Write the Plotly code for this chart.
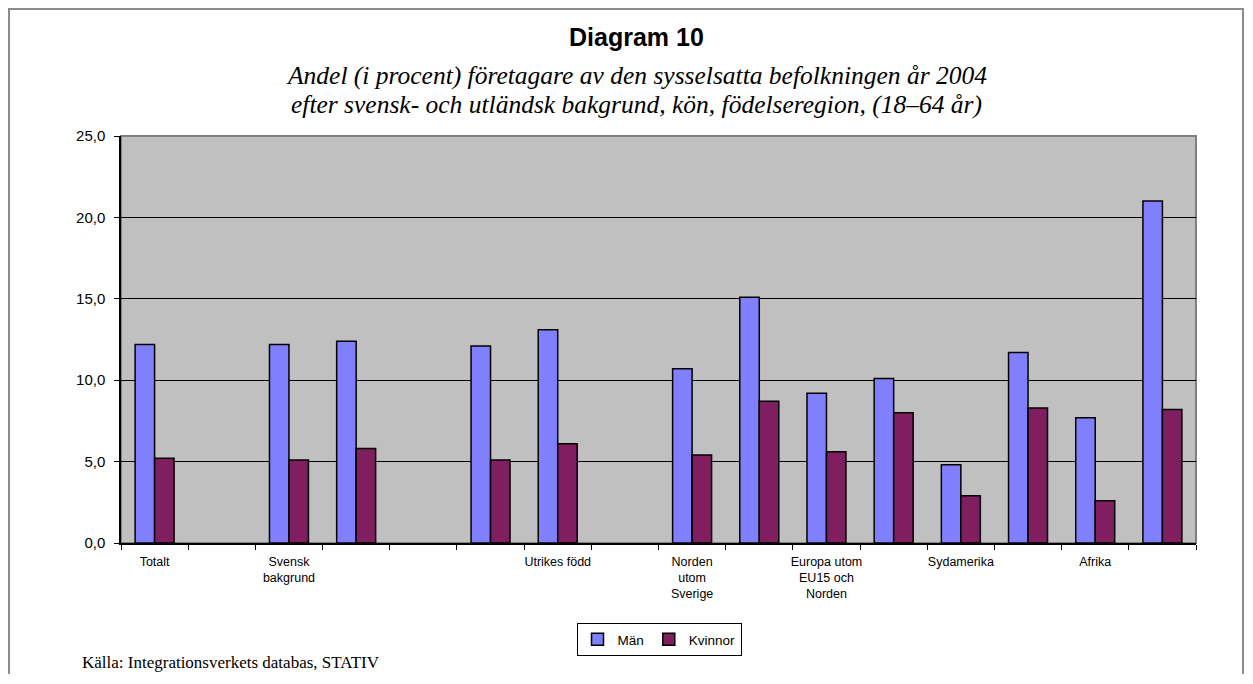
import plotly.graph_objects as go

# Category slots (only every second label is shown in the original chart)
categories = ["Totalt", "", "Svensk<br>bakgrund", "", "", "", "Utrikes född", "",
              "Norden<br>utom<br>Sverige", "", "Europa utom<br>EU15 och<br>Norden", "",
              "Sydamerika", "", "Afrika", ""]
slots = list(range(len(categories)))

man = [12.2, None, 12.2, 12.4, None, 12.1, 13.1, None, 10.7, 15.1, 9.2, 10.1, 4.8, 11.7, 7.7, 21.0]
kvinnor = [5.2, None, 5.1, 5.8, None, 5.1, 6.1, None, 5.4, 8.7, 5.6, 8.0, 2.9, 8.3, 2.6, 8.2]

y_ticks = [0, 5, 10, 15, 20, 25]

fig = go.Figure()
fig.add_trace(go.Bar(x=slots, y=man, name="Män",
                     marker=dict(color="#8080FF", line=dict(color="black", width=1.5))))
fig.add_trace(go.Bar(x=slots, y=kvinnor, name="Kvinnor",
                     marker=dict(color="#7F1F5F", line=dict(color="black", width=1.5))))

# page offset caused by the browser's default body margin (figure kept inside the body)
OFF = 8
PAGE_W, PAGE_H = 1253, 684
W, H = PAGE_W - 2 * OFF, PAGE_H - 2 * OFF - 2
# plot area in page pixels
PL, PR, PT, PB = 121, 1196, 136, 543
L, T = PL - OFF, PT - OFF
R = (OFF + W) - PR
B = (OFF + H) - PB
pw, ph = PR - PL, PB - PT

def px_x(p):
    return (p - PL) / pw

def px_y(p):
    return (PB - p) / ph

fig.update_layout(
    width=W, height=H,
    margin=dict(l=L, r=R, t=T, b=B, pad=0),
    paper_bgcolor="white",
    plot_bgcolor="#C0C0C0",
    barmode="group",
    bargap=0.42,
    bargroupgap=0,
    separators=",.",
    font=dict(family="Liberation Sans, Arial, sans-serif", color="black"),
    showlegend=True,
    legend=dict(orientation="h", x=px_x(659), y=px_y(623), xanchor="center", yanchor="top",
                bordercolor="black", borderwidth=1, bgcolor="white",
                font=dict(size=13.5, family="Liberation Sans, Arial, sans-serif"),
                itemwidth=30),
    xaxis=dict(
        range=[-0.5, len(categories) - 0.5],
        tickmode="array", tickvals=slots, ticktext=categories,
        ticks="", showgrid=False, zeroline=False,
        showline=True, linecolor="black", linewidth=1.5,
        ticklabelstandoff=6,
        tickfont=dict(size=12.5, family="Liberation Sans, Arial, sans-serif"),
        minor=dict(tickmode="linear", tick0=-0.5, dtick=1, ticks="outside",
                   ticklen=5, tickcolor="black", tickwidth=1, showgrid=False),
    ),
    yaxis=dict(
        range=[0, 25], tickmode="array", tickvals=y_ticks, tickformat=".1f",
        ticks="outside", ticklen=5, tickcolor="black",
        ticklabelstandoff=6,
        showgrid=True, gridcolor="black", gridwidth=1,
        zeroline=False, showline=True, linecolor="black", linewidth=1.5,
        tickfont=dict(size=15, family="Liberation Sans, Arial, sans-serif"),
    ),
    shapes=[
        dict(type="rect", xref="paper", yref="paper", x0=0, x1=1, y0=0, y1=1,
             line=dict(color="#808080", width=2), layer="below"),
        dict(type="rect", xref="paper", yref="paper",
             x0=px_x(9), x1=px_x(OFF + W - 2), y0=px_y(9), y1=px_y(720),
             line=dict(color="#8C8C8C", width=2), layer="below"),
    ],
    annotations=[
        dict(text="<b>Diagram 10</b>", xref="paper", yref="paper",
             x=px_x(636), y=px_y(37), xanchor="center", yanchor="middle", showarrow=False,
             font=dict(size=25, family="Liberation Sans, Arial, sans-serif")),
        dict(text="<i>Andel (i procent) företagare av den sysselsatta befolkningen år 2004</i>",
             xref="paper", yref="paper", x=px_x(636), y=px_y(75), xanchor="center",
             yanchor="middle", showarrow=False,
             font=dict(size=25.5, family="Liberation Serif, Times New Roman, serif")),
        dict(text="<i>efter svensk- och utländsk bakgrund, kön, födelseregion, (18–64 år)</i>",
             xref="paper", yref="paper", x=px_x(636), y=px_y(104), xanchor="center",
             yanchor="middle", showarrow=False,
             font=dict(size=25.5, family="Liberation Serif, Times New Roman, serif")),
        dict(text="Källa: Integrationsverkets databas, STATIV", xref="paper", yref="paper",
             x=px_x(80), y=px_y(662), xanchor="left", yanchor="middle", showarrow=False,
             font=dict(size=17, family="Liberation Serif, Times New Roman, serif")),
    ],
)

fig.write_html("out.html")
